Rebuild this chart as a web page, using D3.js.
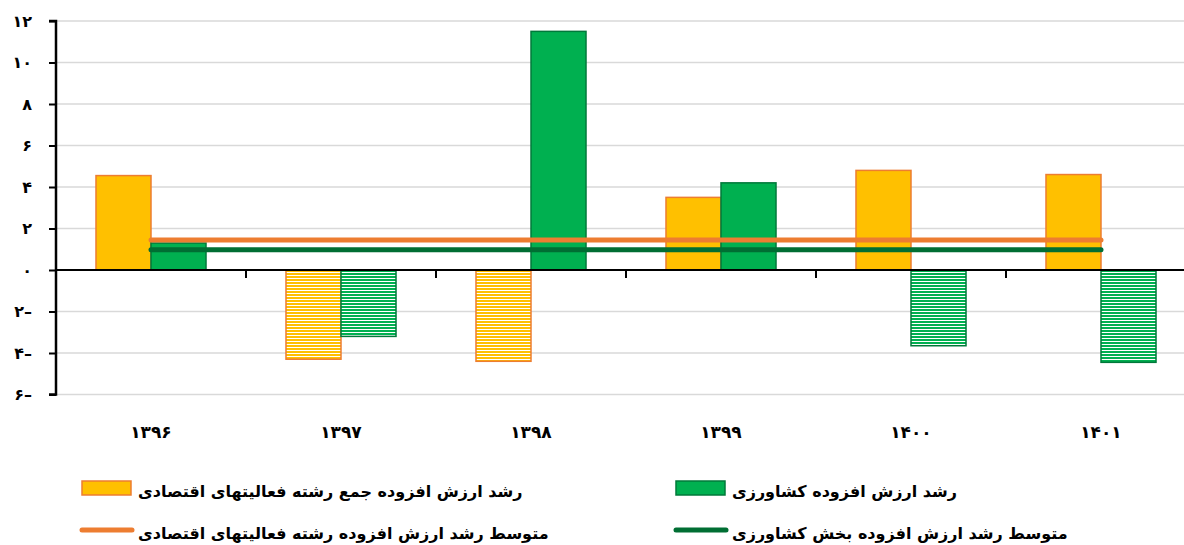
<!DOCTYPE html>
<html>
<head>
<meta charset="utf-8">
<script src="https://cdn.jsdelivr.net/npm/d3@7"></script>
<style>
  body { margin: 0; background: #fff; }
  svg { display: block; font-family: "DejaVu Sans", sans-serif; font-weight: bold; }
</style>
</head>
<body>
<svg id="chart" width="1184" height="545"></svg>
<script>
// years (Persian calendar)
const years = ['۱۳۹۶', '۱۳۹۷', '۱۳۹۸', '۱۳۹۹', '۱۴۰۰', '۱۴۰۱'];

// growth of value added, all economic activities
const totalGrowth = [4.55, -4.3, -4.4, 3.5, 4.8, 4.6];
// growth of value added, agriculture
const agriGrowth = [1.3, -3.2, 11.5, 4.2, -3.65, -4.45];

// averages over the period
const totalAvg = 1.45;
const agriAvg = 0.97;

const yTicks = [-6, -4, -2, 0, 2, 4, 6, 8, 10, 12];

const legendLabels = {
  total: 'رشد ارزش افزوده جمع رشته فعالیتهای اقتصادی',
  agri: 'رشد ارزش افزوده کشاورزی',
  totalAvg: 'متوسط رشد ارزش افزوده رشته فعالیتهای اقتصادی',
  agriAvg: 'متوسط رشد ارزش افزوده بخش کشاورزی'
};

const styles = {
  total: { fill: '#FFC000', stroke: '#ED7D31' },
  agri: { fill: '#00B050', stroke: '#00793A' },
  totalAvg: '#ED7D31',
  agriAvg: '#006E33',
  grid: '#D9D9D9'
};

const faDigits = '۰۱۲۳۴۵۶۷۸۹';
const toFa = n => String(Math.abs(n)).replace(/\d/g, d => faDigits[d]) + (n < 0 ? '–' : '');

const svg = d3.select('#chart');
const left = 56, right = 1196;

const x0 = d3.scaleBand()
  .domain(years)
  .range([left, right])
  .padding(0);

const series = ['total', 'agri'];
const x1 = d3.scaleBand()
  .domain(series)
  .range([0, x0.bandwidth()])
  .paddingInner(0)
  .paddingOuter(0.727);

const y = d3.scaleLinear()
  .domain([-6, 12])
  .range([394.5, 21]);

// hatch patterns for negative bars
const defs = svg.append('defs');
series.forEach(s => {
  const p = defs.append('pattern')
    .attr('id', 'hatch-' + s)
    .attr('patternUnits', 'userSpaceOnUse')
    .attr('width', 8)
    .attr('height', 3);
  p.append('rect').attr('width', 8).attr('height', 3).attr('fill', '#fff');
  p.append('rect').attr('width', 8).attr('height', 2).attr('fill', styles[s].fill);
});

// gridlines
svg.append('g')
  .selectAll('line')
  .data(yTicks.filter(d => d !== 0))
  .enter()
  .append('line')
  .attr('x1', left)
  .attr('x2', 1184)
  .attr('y1', d => y(d))
  .attr('y2', d => y(d))
  .style('stroke', styles.grid)
  .style('stroke-width', 1.5);

// bars
const rows = years.map((yr, i) => ({ year: yr, total: totalGrowth[i], agri: agriGrowth[i] }));

const groups = svg.append('g')
  .selectAll('g')
  .data(rows)
  .enter()
  .append('g')
  .attr('transform', d => `translate(${x0(d.year)},0)`);

groups.selectAll('rect')
  .data(d => series.map(s => ({ key: s, value: d[s] })))
  .enter()
  .append('rect')
  .attr('x', d => x1(d.key))
  .attr('width', x1.bandwidth())
  .attr('y', d => y(Math.max(0, d.value)))
  .attr('height', d => Math.abs(y(d.value) - y(0)))
  .style('fill', d => d.value < 0 ? `url(#hatch-${d.key})` : styles[d.key].fill)
  .style('stroke', d => styles[d.key].stroke)
  .style('stroke-width', 1.5);

// average lines
const avgLine = (val, color) => svg.append('line')
  .attr('x1', x0(years[0]) + x0.bandwidth() / 2)
  .attr('x2', x0(years[years.length - 1]) + x0.bandwidth() / 2)
  .attr('y1', y(val))
  .attr('y2', y(val))
  .style('stroke', color)
  .style('stroke-width', 5)
  .style('stroke-linecap', 'round');

avgLine(totalAvg, styles.totalAvg);
avgLine(agriAvg, styles.agriAvg);

// zero line
svg.append('line')
  .attr('x1', left)
  .attr('x2', 1184)
  .attr('y1', y(0))
  .attr('y2', y(0))
  .style('stroke', '#000')
  .style('stroke-width', 2);

// category separator ticks
svg.append('g')
  .selectAll('line')
  .data(years.slice(1))
  .enter()
  .append('line')
  .attr('x1', d => x0(d))
  .attr('x2', d => x0(d))
  .attr('y1', y(0))
  .attr('y2', y(0) + 8)
  .style('stroke', '#000')
  .style('stroke-width', 2);

// y axis
const yAxis = svg.append('g')
  .attr('transform', `translate(${left},0)`)
  .call(d3.axisLeft(y).tickValues(yTicks).tickSize(7).tickPadding(17).tickFormat(toFa));

yAxis.select('.domain')
  .attr('d', `M-7,${y(12)}H0V${y(-6)}H-7`)
  .style('stroke', '#000')
  .style('stroke-width', 2.5);
yAxis.selectAll('.tick line').style('stroke', '#000').style('stroke-width', 2);
yAxis.selectAll('.tick text')
  .style('font-size', '16px')
  .style('font-weight', 'bold')
  .style('font-family', '"DejaVu Sans", sans-serif')
  .style('fill', '#000');

// x labels
svg.append('g')
  .selectAll('text')
  .data(years)
  .enter()
  .append('text')
  .attr('x', d => x0(d) + x0.bandwidth() / 2)
  .attr('y', 438)
  .attr('text-anchor', 'middle')
  .style('font-size', '17px')
  .text(d => d);

// legend
const legend = [
  { key: 'total', x: 82, y: 488, type: 'box' },
  { key: 'agri', x: 676, y: 488, type: 'box' },
  { key: 'totalAvg', x: 82, y: 530, type: 'line' },
  { key: 'agriAvg', x: 676, y: 530, type: 'line' }
];

const lg = svg.append('g')
  .selectAll('g')
  .data(legend)
  .enter()
  .append('g')
  .attr('transform', d => `translate(${d.x},${d.y})`);

lg.filter(d => d.type === 'box')
  .append('rect')
  .attr('x', 0)
  .attr('y', -7)
  .attr('width', 49)
  .attr('height', 14)
  .style('fill', d => styles[d.key].fill)
  .style('stroke', d => styles[d.key].stroke)
  .style('stroke-width', 1.5);

lg.filter(d => d.type === 'line')
  .append('line')
  .attr('x1', 0)
  .attr('x2', 50)
  .attr('y1', 0)
  .attr('y2', 0)
  .style('stroke', d => styles[d.key])
  .style('stroke-width', 5)
  .style('stroke-linecap', 'round');

lg.append('text')
  .attr('x', 56)
  .attr('y', 9)
  .style('font-size', '16px')
  .text(d => legendLabels[d.key]);
</script>
</body>
</html>
